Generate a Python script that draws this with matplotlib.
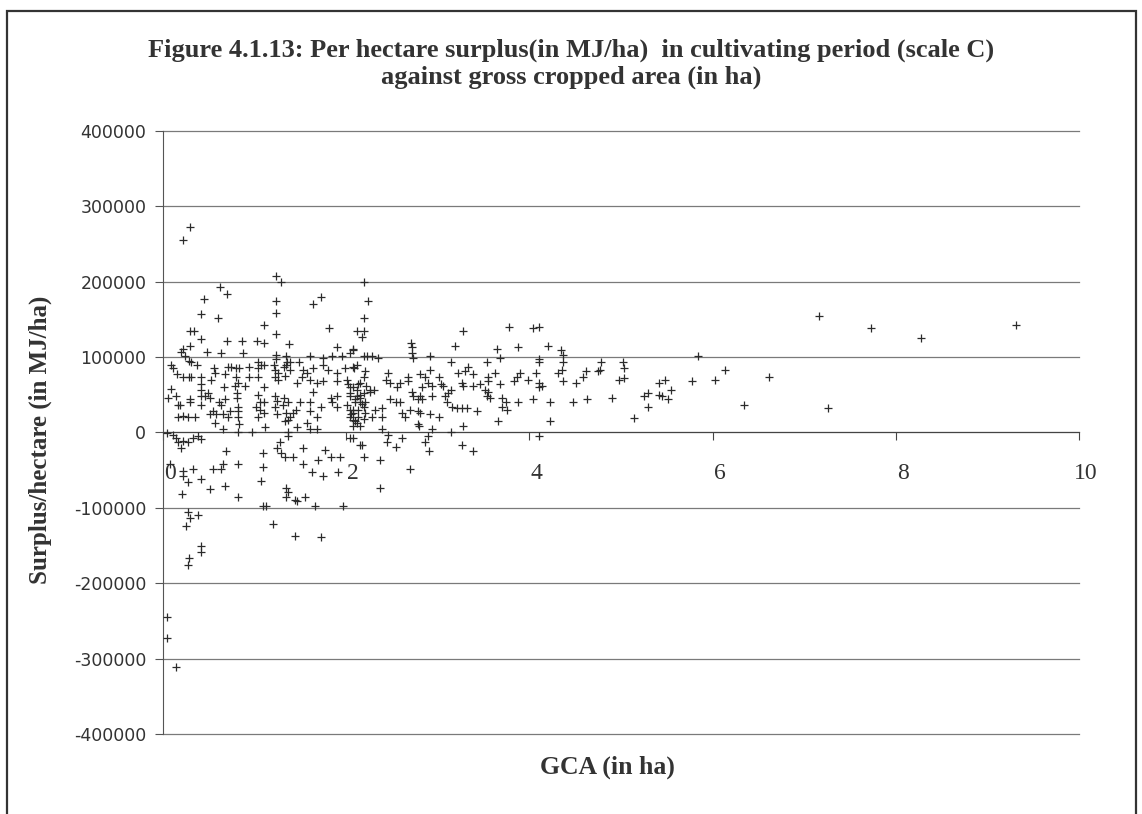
import matplotlib.pyplot as plt
import matplotlib.transforms as mtransforms
from matplotlib.patches import Rectangle

# GCA (ha) and surplus (MJ/ha)
gca = [
    # x 0 - 1.4, upper part
    1.23, 1.29, 0.62, 0.70, 0.45, 1.23, 1.23, 0.41, 0.60, 1.10, 1.23, 0.30, 0.34, 0.41, 0.70, 0.86,
    1.03, 1.10, 1.38, 0.22, 0.20, 0.30, 0.48, 0.63, 0.87, 1.23, 1.23, 1.34, 0.24, 0.28, 0.31, 0.09,
    0.11, 0.37, 0.56, 0.57, 0.71, 0.74, 0.80, 0.83, 0.94, 1.04, 1.07, 1.04, 1.10, 1.21, 1.22, 1.26,
    1.32, 1.34, 1.39, 0.15, 0.22, 0.28, 0.31, 0.41, 0.52, 0.68, 0.80, 0.82, 0.94, 1.04, 1.22, 1.26,
    1.33, 0.41, 0.41, 0.67, 0.79, 0.90, 1.10, 0.09, 0.05, 0.14, 0.30, 0.42, 0.46, 0.49, 0.51, 0.61,
    0.63, 0.68, 0.81, 0.81, 1.04, 1.06, 1.02, 1.22, 1.24, 1.32, 1.37, 0.16, 0.82,
    # x 0 - 1.4, around zero
    0.19, 0.30, 0.42, 0.55, 0.51, 0.58, 0.57, 0.66, 0.73, 0.71, 0.16, 0.22, 0.27, 0.35, 0.82, 0.82,
    0.83, 0.82, 0.66, 0.97, 1.06, 1.04, 1.10, 1.10, 1.11, 1.22, 1.24, 1.31, 1.34, 1.37, 1.45,
    0.04, 0.11, 0.14, 0.16, 0.20, 0.22, 0.27, 0.33, 0.38, 0.42, 0.69, 1.09, 1.28, 1.24, 1.29, 1.33, 1.37,
    0.33, 0.22, 0.22, 0.27, 0.42, 0.55, 0.66, 0.63, 0.82, 1.09, 1.07, 0.51, 0.68, 0.82, 0.21, 1.34,
    1.34, 1.44, 1.09, 1.13, 0.27, 0.29, 0.38, 0.25, 1.20, 0.08,
    # lower left
    0.42, 0.42, 0.28, 0.27, 0.04, 0.04, 0.14, 1.44, 1.72, 1.66, 1.97, 1.46,
    # high values
    0.30, 0.22, 2.19, 1.64, 1.72, 1.81, 1.90, 2.08, 2.19, 2.19, 2.12, 2.17, 2.24,
    2.71, 2.72, 3.28, 3.19, 3.78, 4.04, 4.11, 3.65, 3.88, 4.20,
    # x 1.3 - 2.3
    1.48, 1.61, 1.75, 1.85, 1.96, 2.04, 2.19, 1.35, 1.39,
    1.53, 1.57, 1.64, 1.75, 1.80, 1.90, 1.99, 2.09, 2.21,
    1.46, 1.52, 1.61, 1.68, 1.64, 1.75, 1.90, 2.01, 2.04, 2.13, 2.04, 2.12, 2.19,
    1.50, 1.61, 1.72, 1.85, 1.90, 2.01, 2.08, 2.15, 1.61, 1.68, 1.39, 1.42, 1.33, 1.57, 1.46, 1.61,
    1.68, 2.04, 2.10, 2.15, 2.21, 2.07, 1.90, 1.83,
    1.36, 1.42, 1.53, 1.77, 2.19, 2.04, 2.15,
    1.53, 1.63, 1.75, 1.91, 1.69, 1.83, 1.93, 1.36, 1.55,
    2.08, 2.12, 2.15, 2.10, 2.17, 2.13, 2.05, 2.20, 2.02, 2.22,
    # x 2 - 4.4
    4.34, 4.37, 4.37, 2.08, 2.23, 2.28, 2.35, 2.72, 2.73, 2.92, 3.14, 3.54, 3.68, 4.10, 4.10, 4.31,
    4.36, 4.37, 2.12, 2.07, 2.19, 2.15, 2.26, 2.46, 2.43, 2.48, 2.59, 2.56, 2.67, 2.68,
    2.81, 2.86, 2.92, 3.01, 3.22, 3.30, 3.33, 3.39, 3.27,
    3.55, 3.55, 3.63, 3.68, 3.83, 3.87, 3.90, 3.98, 4.07, 4.10, 4.14, 4.10,
    3.28, 3.38, 3.46, 3.52, 2.89, 2.94, 2.83, 3.03, 3.06,
    2.04, 2.10, 2.15, 2.21, 2.19, 2.04, 2.08, 2.13, 2.07, 2.12,
    2.26, 2.30, 2.32, 2.28, 2.39, 2.39, 2.48, 2.54, 2.59, 2.61, 2.64,
    2.72, 2.73, 2.78, 2.81, 2.83, 2.94, 2.70, 2.78, 2.81, 2.92, 3.01, 2.79,
    3.08, 3.11, 3.14, 3.10, 3.16, 3.21, 3.27, 3.32, 3.43,
    3.54, 3.57, 3.55, 3.70, 3.74, 3.70, 3.76, 3.66, 3.88, 4.04, 4.23, 4.23,
    2.78, 2.94, 3.14, 3.28,
    2.07, 2.17, 2.37, 2.39, 2.45, 2.46, 2.54, 2.61, 2.89, 2.86, 2.90, 2.70, 2.37, 3.27, 3.39, 4.10,
    # x > 4.4
    7.16, 7.73, 8.28, 9.31, 5.84, 4.78, 4.77, 4.75, 5.02, 5.03, 4.51, 4.59, 4.62, 4.98, 5.03,
    4.48, 4.63, 4.90, 5.14, 5.25, 5.29, 5.30, 5.42, 5.48, 5.42, 5.45, 5.51, 5.55, 5.78, 6.03,
    6.14, 6.34, 6.62, 7.26,
]

surplus = [
    # x 0 - 1.4, upper part
    207000, 200000, 193000, 184000, 177000, 174000, 159000, 157000, 152000, 143000, 131000, 135000, 134000, 124000, 122000, 122000,
    122000, 119000, 118000, 111000, 107000, 115000, 107000, 106000, 105000, 103000, 98000, 101000, 101000, 95000, 93000, 90000,
    86000, 90000, 85000, 79000, 87000, 87000, 85000, 86000, 87000, 94000, 90000, 85000, 90000, 90000, 83000, 79000,
    87000, 90000, 83000, 77000, 73000, 73000, 74000, 73000, 70000, 77000, 73000, 66000, 73000, 73000, 74000, 70000,
    75000, 64000, 57000, 60000, 61000, 61000, 60000, 58000, 46000, 48000, 44000, 48000, 48000, 53000, 46000, 41000,
    37000, 44000, 53000, 46000, 50000, 41000, 34000, 48000, 42000, 46000, 41000, 37000, 34000,
    # x 0 - 1.4, around zero
    37000, 41000, 37000, 28000, 24000, 24000, 13000, 24000, 28000, 20000, 21000, 22000, 21000, 21000, 28000, 20000,
    11000, 1000, 4000, 1000, 30000, 21000, 40000, 26000, 7000, 34000, 24000, 37000, 26000, 17000, 30000,
    -1000, -4000, -7000, -13000, -20000, -11000, -13000, -7000, -5000, -8000, -25000, -27000, -13000, -20000, -27000, -33000, 0,
    -49000, -51000, -58000, -66000, -62000, -48000, -42000, -48000, -42000, -46000, -64000, -75000, -71000, -85000, -82000, -74000,
    -86000, -89000, -97000, -97000, -106000, -113000, -109000, -124000, -122000, -42000,
    # lower left
    -151000, -158000, -166000, -176000, -245000, -272000, -311000, -137000, -139000, -97000, -98000, -91000,
    # high values
    273000, 256000, 199000, 171000, 180000, 139000, 114000, 111000, 152000, 134000, 134000, 127000, 174000,
    119000, 114000, 134000, 115000, 140000, 139000, 140000, 111000, 114000, 115000,
    # x 1.3 - 2.3
    94000, 102000, 99000, 102000, 101000, 106000, 102000, 93000, 94000,
    83000, 79000, 86000, 89000, 83000, 79000, 85000, 86000, 81000,
    66000, 73000, 70000, 66000, 54000, 68000, 68000, 70000, 60000, 64000, 53000, 48000, 53000,
    40000, 41000, 34000, 40000, 34000, 37000, 30000, 40000, 28000, 21000, 20000, 26000, 15000, 13000, 7000, 4000,
    4000, 21000, 15000, 8000, 26000, 8000, 48000, 46000,
    -5000, -32000, -20000, -23000, -32000, -7000, -16000,
    -42000, -53000, -58000, -52000, -36000, -33000, -33000, -79000, -85000,
    60000, 57000, 50000, 44000, 38000, 30000, 24000, 18000, 64000, 61000,
    # x 2 - 4.4
    110000, 103000, 94000, 110000, 102000, 101000, 99000, 105000, 99000, 102000, 93000, 93000, 99000, 97000, 93000, 79000,
    83000, 68000, 90000, 87000, 74000, 66000, 57000, 79000, 70000, 66000, 66000, 60000, 74000, 68000,
    77000, 73000, 83000, 73000, 79000, 81000, 87000, 77000, 66000,
    74000, 68000, 79000, 64000, 68000, 74000, 79000, 70000, 79000, 66000, 61000, 60000,
    61000, 61000, 64000, 57000, 66000, 61000, 60000, 64000, 61000,
    48000, 41000, 46000, 41000, 34000, 30000, 26000, 21000, 17000, 13000,
    54000, 57000, 30000, 20000, 33000, 21000, 44000, 41000, 40000, 26000, 21000,
    54000, 48000, 44000, 48000, 44000, 48000, 30000, 28000, 26000, 24000, 20000, 8000,
    48000, 53000, 57000, 41000, 34000, 33000, 33000, 33000, 28000,
    48000, 46000, 54000, 46000, 41000, 34000, 30000, 15000, 41000, 44000, 41000, 15000,
    11000, 4000, 1000, 8000,
    -7000, -16000, -36000, 4000, -13000, -3000, -19000, -7000, -5000, -13000, -25000, -49000, -73000, -16000, -25000, -5000,
    # x > 4.4
    154000, 138000, 126000, 143000, 102000, 93000, 83000, 81000, 94000, 86000, 66000, 73000, 82000, 70000, 72000,
    41000, 45000, 46000, 19000, 48000, 53000, 34000, 66000, 70000, 50000, 48000, 44000, 57000, 68000, 69000,
    83000, 37000, 74000, 33000,
]

x_ticks = [0, 2, 4, 6, 8, 10]
y_ticks = [-400000, -300000, -200000, -100000, 0, 100000, 200000, 300000, 400000]

fig = plt.figure(figsize=(11.42, 8.14), dpi=100)
ax = fig.add_axes([0.1427, 0.0983, 0.8021, 0.7408])

ax.scatter(gca, surplus, marker='+', s=40, linewidths=0.9, color='#2b2b2b', zorder=3)

ax.set_xlim(0, 10)
ax.set_ylim(-400000, 400000)

# x axis crosses at zero like excel (set before the tick labels, it resets them)
ax.spines['bottom'].set_position(('data', 0))
ax.spines['top'].set_visible(False)
ax.spines['right'].set_visible(False)
ax.spines['bottom'].set_color('#444444')
ax.spines['left'].set_color('#555555')

ax.set_xticks(x_ticks)
ax.set_yticks(y_ticks)
ax.set_yticklabels([str(v) for v in y_ticks], fontsize=12.5, family='DejaVu Sans', color='#333333')
ax.set_xticklabels([str(v) for v in x_ticks], fontsize=17, family='Liberation Serif', color='#333333')
ax.tick_params(axis='x', direction='out', length=6, pad=16, color='#444444')
ax.tick_params(axis='y', direction='out', length=6, pad=6, color='#555555')
offset = mtransforms.ScaledTranslation(0.07, 0, fig.dpi_scale_trans)
for lab in ax.get_xticklabels():
    lab.set_transform(lab.get_transform() + offset)

ax.grid(True, axis='y', color='#7a7a7a', linewidth=0.9)
ax.grid(False, axis='x')
ax.set_axisbelow(True)
for gl in ax.get_ygridlines():
    gl.set_clip_on(False)

fig.text(0.5, 0.938, 'Figure 4.1.13: Per hectare surplus(in MJ/ha)  in cultivating period (scale C)',
         ha='center', va='center', fontsize=19, fontweight='bold', family='Liberation Serif', color='#333333')
fig.text(0.5, 0.905, 'against gross cropped area (in ha)',
         ha='center', va='center', fontsize=19, fontweight='bold', family='Liberation Serif', color='#333333')
fig.text(0.035, 0.46, 'Surplus/hectare (in MJ/ha)', rotation=90, ha='center', va='center',
         fontsize=18, fontweight='bold', family='Liberation Serif', color='#333333')
fig.text(0.532, 0.057, 'GCA (in ha)', ha='center', va='center',
         fontsize=18.5, fontweight='bold', family='Liberation Serif', color='#333333')

# chart frame
fig.patches.append(Rectangle((0.006, -0.01), 0.989, 0.996, transform=fig.transFigure,
                             fill=False, edgecolor='#333333', linewidth=1.6))

plt.savefig('out.png', dpi=100)
plt.close()
